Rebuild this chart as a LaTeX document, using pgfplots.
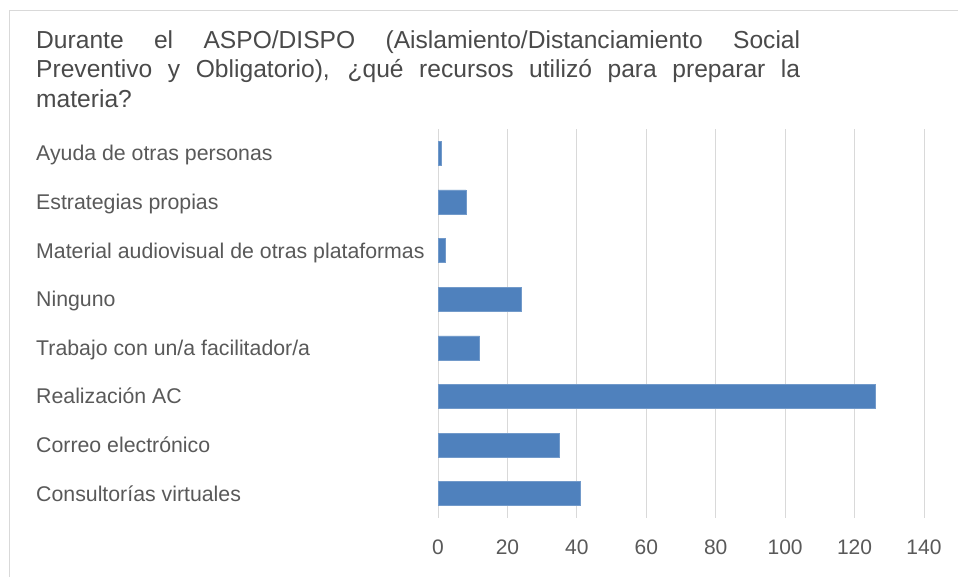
\documentclass[border=0pt]{standalone}
\usepackage{fontspec}
\setmainfont{Liberation Sans}
\usepackage{pgfplots}
\pgfplotsset{compat=1.18}
\usepackage{pgfplotstable}
\definecolor{barblue}{HTML}{4F81BD}
\definecolor{txtgray}{HTML}{595959}
\definecolor{titlegray}{HTML}{4A4A4A}
\definecolor{gridgray}{HTML}{D9D9D9}
\pgfplotstableread{
idx value
0 1
1 8
2 2
3 24
4 12
5 126
6 35
7 41
}\datatable
\begin{document}
\begin{tikzpicture}[x=1pt,y=1pt]
\useasboundingbox (0,0) rectangle (958,577);
\fill[white] (0,0) rectangle (958,577);
\draw[gridgray,line width=1pt] (9.5,0) -- (9.5,566.5) -- (958,566.5);
\node[anchor=base west,inner sep=0pt,text=titlegray,font=\fontsize{24.6pt}{30pt}\selectfont] at (36,528.7)
  {\makebox[764pt][s]{Durante el ASPO/DISPO (Aislamiento/Distanciamiento Social}};
\node[anchor=base west,inner sep=0pt,text=titlegray,font=\fontsize{24.6pt}{30pt}\selectfont] at (36,499)
  {\makebox[764pt][s]{Preventivo y Obligatorio), ¿qué recursos utilizó para preparar la}};
\node[anchor=base west,inner sep=0pt,text=titlegray,font=\fontsize{24.6pt}{30pt}\selectfont] at (36,469)
  {materia?};
\begin{axis}[
  at={(438pt,59pt)}, anchor=south west,
  scale only axis, width=486pt, height=389pt,
  xbar, bar width=24pt,
  xmin=0, xmax=140, xtick={0,20,...,140},
  ymin=-0.5, ymax=7.5, y dir=reverse,
  ytick={0,...,7},
  yticklabels={Ayuda de otras personas,Estrategias propias,Material audiovisual de otras plataformas,Ninguno,Trabajo con un/a facilitador/a,Realización AC,Correo electrónico,Consultorías virtuales},
  axis line style={draw=none},
  xmajorgrids, ymajorgrids=false, grid style={gridgray,line width=1pt},
  major tick length=0pt,
  /pgf/number format/assume math mode=true,
  xticklabel style={font=\fontsize{21pt}{24pt}\selectfont, text=txtgray, inner sep=0pt, anchor=north, yshift=-22pt},
  yticklabel style={font=\fontsize{21.3pt}{24pt}\selectfont, text=txtgray, inner sep=0pt, anchor=base west, xshift=-402pt, yshift=-7.5pt},
  clip=false,
]
\addplot[fill=barblue, draw=barblue!80!white, line width=0.5pt] table[x=value,y=idx] {\datatable};
\end{axis}
\end{tikzpicture}
\end{document}
